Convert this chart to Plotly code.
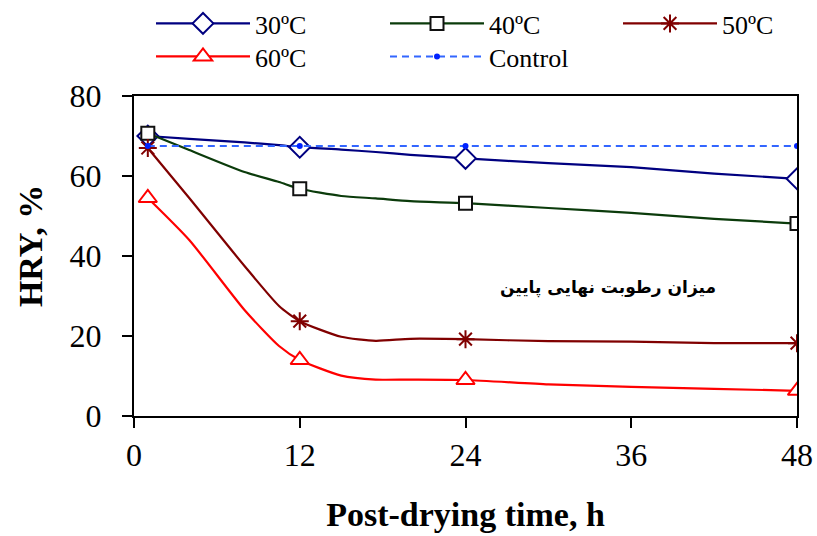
import plotly.graph_objects as go

# ---- data ----
hours = [1, 4, 8, 10.5, 12, 15, 17.5, 20, 24, 30, 36, 42, 48]
hry_30 = [70.0, 69.3, 68.4, 67.7, 67.2, 66.6, 66.0, 65.3, 64.4, 63.2, 62.2, 60.6, 59.3]
hry_40 = [70.7, 66.5, 61.0, 58.5, 56.8, 55.0, 54.4, 53.7, 53.2, 52.0, 50.8, 49.3, 48.1]
hry_50 = [67.0, 54.5, 37.5, 27.5, 23.7, 19.8, 18.8, 19.3, 19.2, 18.7, 18.6, 18.2, 18.2]
hry_60 = [54.5, 44.0, 26.5, 17.5, 14.0, 10.1, 9.1, 9.1, 9.0, 7.9, 7.3, 6.8, 6.3]
marker_hours = [1, 12, 24, 48]
control_hours = [1, 12, 24, 48]
control_hry = [67.5, 67.5, 67.5, 67.5]

series_names = ["30ºC", "40ºC", "50ºC", "60ºC"]
x_ticks = [0, 12, 24, 36, 48]
y_ticks = [0, 20, 40, 60, 80]
note_text = "میزان رطوبت نهایی پایین"

styles = [
    dict(color="#000080", symbol="diamond", size=16, fill="white", legend="legend"),
    dict(color="#0B3B0B", symbol="square", size=13, fill="white", mline="#111111", legend="legend2"),
    dict(color="#800000", symbol="asterisk-open", size=15, fill="#800000", legend="legend3"),
    dict(color="#FF0000", symbol="triangle-up", size=16, fill="white", legend="legend4"),
]

fig = go.Figure()
all_series = [hry_30, hry_40, hry_50, hry_60]
for name, vals, st in zip(series_names, all_series, styles):
    mline = st.get("mline", st["color"])
    marker = dict(symbol=st["symbol"], size=st["size"], color=st["fill"],
                  line=dict(color=mline, width=2))
    fig.add_trace(go.Scatter(x=hours, y=vals, mode="lines", legendgroup=name,
                             showlegend=False, hoverinfo="skip",
                             line=dict(color=st["color"], width=2.2, shape="spline", smoothing=0.6)))
    mx = [h for h in hours if h in marker_hours]
    my = [v for h, v in zip(hours, vals) if h in marker_hours]
    fig.add_trace(go.Scatter(x=mx, y=my, mode="markers", legendgroup=name,
                             showlegend=False, marker=marker))
    fig.add_trace(go.Scatter(x=[None], y=[None], mode="lines+markers", name=name,
                             legendgroup=name, legend=st["legend"],
                             line=dict(color=st["color"], width=2.2), marker=marker))

fig.add_trace(go.Scatter(x=control_hours, y=control_hry, mode="lines+markers", name="Control",
                         legend="legend5",
                         line=dict(color="#3366FF", width=2, dash="7px,5px"),
                         marker=dict(symbol="circle", size=6, color="#0022FF")))

fig.add_annotation(x=34.3, y=32.2, xref="x", yref="y", text=note_text, showarrow=False,
                   font=dict(family="DejaVu Sans", size=17, color="black", weight="bold"))

serif = "Liberation Serif, Times New Roman, serif"
tick_font = dict(family=serif, size=32, color="black")
title_font = dict(family=serif, size=34, color="black", weight="bold")
leg_font = dict(family=serif, size=26, color="black")

# y-axis title as rotated text left of the tick labels
fig.add_annotation(x=-104 / 663, y=0.531, xref="paper", yref="paper", text="HRY, %",
                   textangle=-90, showarrow=False, font=title_font,
                   xanchor="center", yanchor="middle")


def leg(xpx, ytop):
    return dict(orientation="v", xref="container", yref="container",
                x=xpx / 817, y=1 - ytop / 536, xanchor="left", yanchor="top",
                font=leg_font, bgcolor="rgba(0,0,0,0)", itemsizing="trace",
                itemwidth=94)


fig.update_layout(
    width=817, height=536, autosize=False,
    margin=dict(l=134, r=20, t=96, b=120, autoexpand=False),
    paper_bgcolor="white", plot_bgcolor="white",
    showlegend=True,
    legend=leg(151, 0), legend2=leg(385, 0), legend3=leg(618, 0),
    legend4=leg(151, 33), legend5=leg(385, 33),
    xaxis=dict(range=[0, 48], tickvals=x_ticks, ticktext=[str(v) for v in x_ticks],
               showgrid=False, zeroline=False, showline=True, linecolor="black", linewidth=2,
               mirror=True, ticks="outside", ticklen=10, tickwidth=1.5, tickcolor="black",
               tickfont=tick_font, ticklabelstandoff=0, ticklabeloverflow="allow",
               title=dict(text="Post-drying time, h", font=title_font, standoff=30)),
    yaxis=dict(range=[0, 80], tickvals=y_ticks, ticktext=[str(v) for v in y_ticks],
               showgrid=False, zeroline=False, showline=True, linecolor="black", linewidth=2,
               mirror=True, ticks="outside", ticklen=10, tickwidth=1.5, tickcolor="black",
               tickfont=tick_font, ticklabelstandoff=14),
)

fig.write_html("out.html", config={"displayModeBar": False},
               post_script="document.body.style.margin='0';")
